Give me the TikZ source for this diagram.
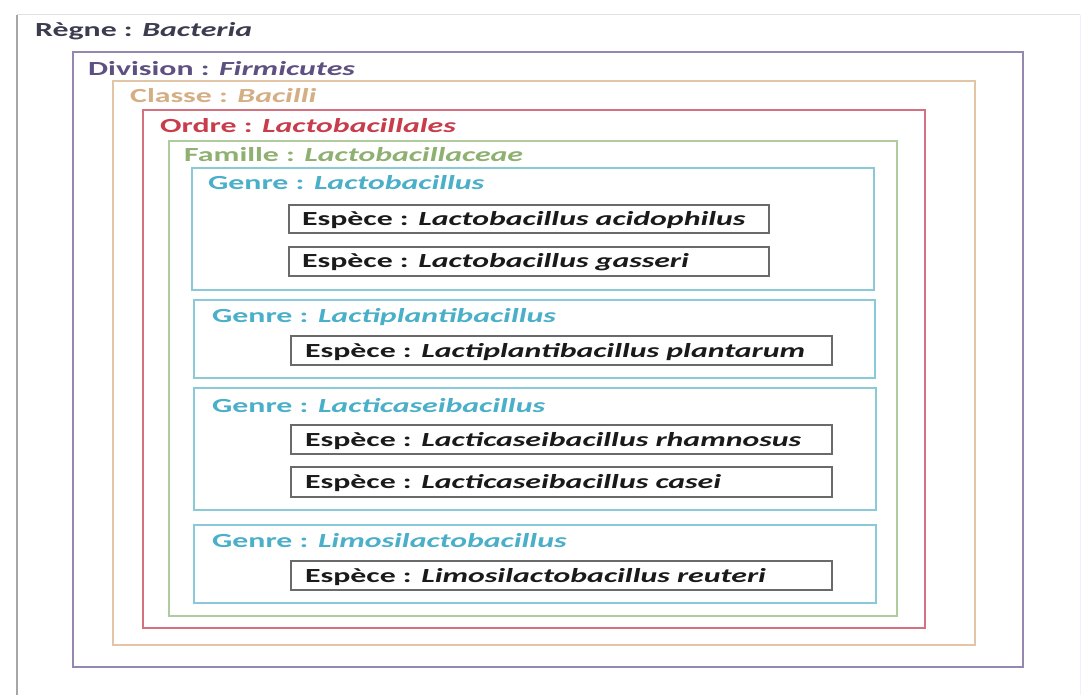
\documentclass[tikz,border=0pt]{standalone}
\usepackage{fontspec}
\setmainfont{Carlito}[FakeStretch=1.59]
\definecolor{regnec}{HTML}{3C3C50}
\definecolor{divt}{HTML}{5E5080}
\definecolor{divb}{HTML}{9488B0}
\definecolor{clst}{HTML}{D6AE84}
\definecolor{clsb}{HTML}{E2C4A6}
\definecolor{ordt}{HTML}{C83C4C}
\definecolor{ordb}{HTML}{D47080}
\definecolor{famt}{HTML}{8EB070}
\definecolor{famb}{HTML}{B0CC9E}
\definecolor{gent}{HTML}{4AAFC8}
\definecolor{genb}{HTML}{8ACAD8}
\definecolor{spb}{HTML}{6A6A6A}
\definecolor{spt}{HTML}{1A1A1A}
\begin{document}
\begin{tikzpicture}[x=1pt,y=-1pt,
  lbl/.style={anchor=base west,inner sep=0pt,font=\fontsize{20}{22}\selectfont\bfseries},
  frame/.style={line width=1.6pt},
  spbox/.style={frame,draw=spb},
  sptext/.style={lbl,text=spt},
  genbox/.style={frame,draw=genb},
  gentext/.style={lbl,text=gent}]
\useasboundingbox (0,0) rectangle (1082,695);
\fill[white] (0,0) rectangle (1082,695);
% outer panel
\draw[line width=1pt,draw=black!12] (17,15) -- (1080,15);
\draw[line width=1pt,draw=blue!6] (1080,15) -- (1080,695);
\draw[line width=2pt,draw=black!35] (17,15) -- (17,695);
\node[lbl,text=regnec] (regne) at (35,37) {Règne : \textit{Bacteria}};
% nested boxes
\draw[frame,draw=divb] (73,52) rectangle (1023,667);
\node[lbl,text=divt] (division) at (88,76) {Division : \textit{Firmicutes}};
\draw[frame,draw=clsb] (113,81) rectangle (975,645);
\node[lbl,text=clst] (classe) at (130,103) {Classe : \textit{Bacilli}};
\draw[frame,draw=ordb] (143,110) rectangle (925,628);
\node[lbl,text=ordt] (ordre) at (160,133) {Ordre : \textit{Lactobacillales}};
\draw[frame,draw=famb] (169,141) rectangle (897,616);
\node[lbl,text=famt] (famille) at (184,162) {Famille : \textit{Lactobacillaceae}};
% genres
\draw[genbox] (192,168) rectangle (874,290);
\node[gentext] (g1) at (208,190) {Genre : \textit{Lactobacillus}};
\draw[genbox] (194,300) rectangle (875,378);
\node[gentext] (g2) at (212,322) {Genre : \textit{Lactiplantibacillus}};
\draw[genbox] (194,388) rectangle (876,510);
\node[gentext] (g3) at (212,412) {Genre : \textit{Lacticaseibacillus}};
\draw[genbox] (194,525) rectangle (876,603);
\node[gentext] (g4) at (212,547) {Genre : \textit{Limosilactobacillus}};
% species
\draw[spbox] (289,205) rectangle (769,233);
\node[sptext] (s1) at (302,226) {Espèce : \textit{Lactobacillus acidophilus}};
\draw[spbox] (289,247) rectangle (769,276);
\node[sptext] (s2) at (302,268) {Espèce : \textit{Lactobacillus gasseri}};
\draw[spbox] (291,336) rectangle (832,365);
\node[sptext] (s3) at (305,357) {Espèce : \textit{Lactiplantibacillus plantarum}};
\draw[spbox] (291,425) rectangle (832,454);
\node[sptext] (s4) at (305,446) {Espèce : \textit{Lacticaseibacillus rhamnosus}};
\draw[spbox] (291,467) rectangle (832,497);
\node[sptext] (s5) at (305,488) {Espèce : \textit{Lacticaseibacillus casei}};
\draw[spbox] (291,561) rectangle (832,590);
\node[sptext] (s6) at (305,582) {Espèce : \textit{Limosilactobacillus reuteri}};
\end{tikzpicture}
\end{document}
